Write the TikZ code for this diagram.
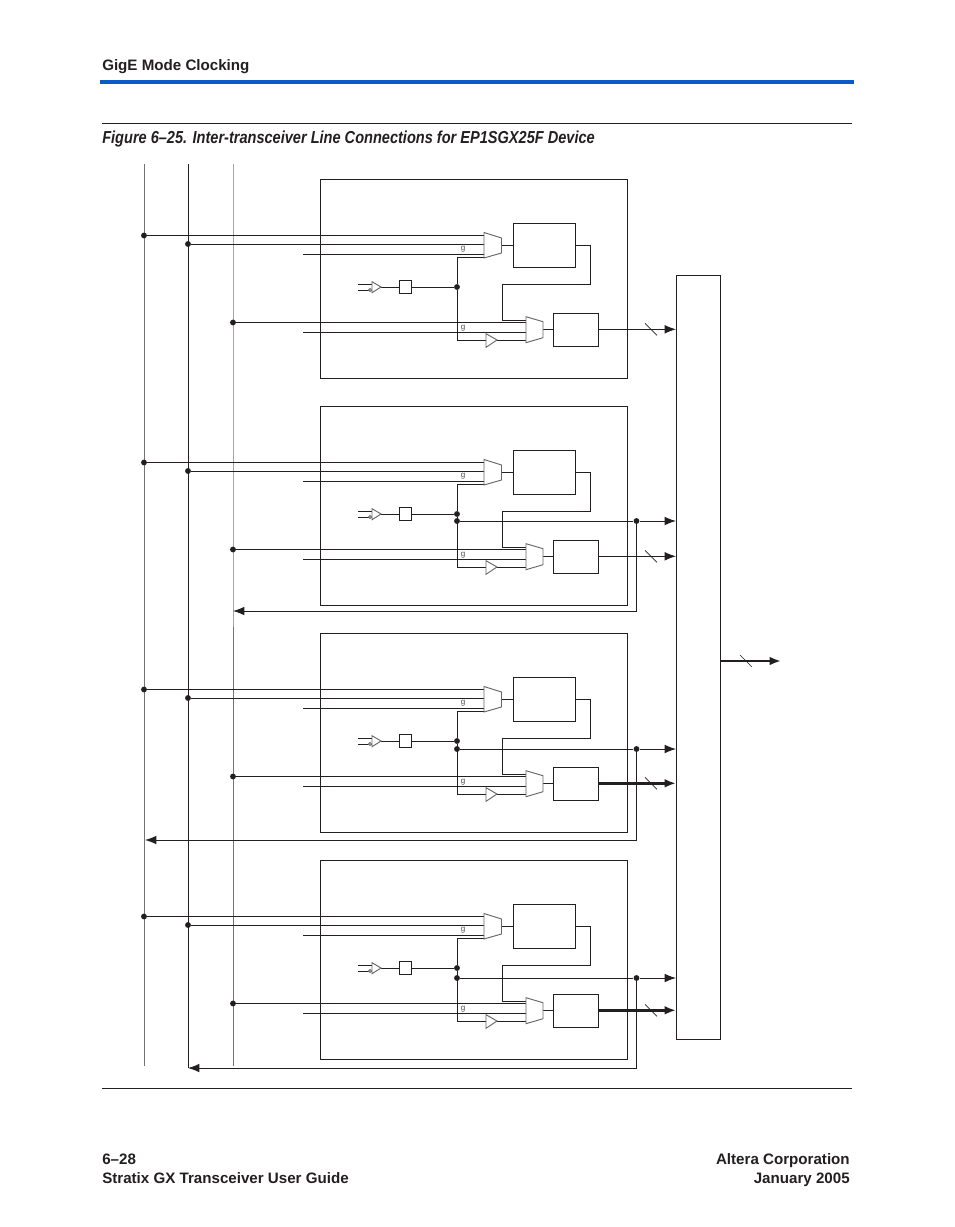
\documentclass[tikz,border=0pt]{standalone}
\usepackage{fontspec}
\setmainfont{Liberation Sans}
\usetikzlibrary{calc, arrows.meta}
\definecolor{ruleblue}{HTML}{0A5CC4}
\definecolor{linedark}{HTML}{231F20}
\tikzset{
  >={Latex[length=8.5pt,width=6.5pt]},
  wire/.style={draw=linedark, line width=0.72pt},
  fatwire/.style={draw=linedark, line width=1.9pt},
  railgray/.style={draw=black!55, line width=0.72pt},
  gategray/.style={draw=black!60, line width=0.7pt, fill=white},
  blockbox/.style={wire, fill=white, inner sep=0pt, outer sep=0pt},
  dotnode/.style={circle, fill=linedark, inner sep=0pt, minimum size=4.4pt},
  tinylabel/.style={font=\fontsize{6}{6}\selectfont, text=black!70, inner sep=0pt},
  pagetext/.style={font=\fontsize{11.35}{13}\selectfont\bfseries, text=linedark, inner sep=0pt},
  slashmark/.style={draw=linedark, line width=0.5pt},
}
\begin{document}
\begin{tikzpicture}[x=0.75pt, y=-0.75pt]
  \useasboundingbox (0,0) rectangle (954,1227);

  % page furniture
  \node[pagetext, anchor=base west] (header) at (102,71) {GigE Mode Clocking};
  \fill[ruleblue] (100,80.5) rectangle (854,84.5);
  \draw[wire] (102,123) -- (852,123);
  \node[pagetext, anchor=base west, font=\fontsize{13}{15}\selectfont\bfseries] (caption) at (102,143.5) {\addfontfeature{FakeStretch=0.84}\itshape Figure 6--25. Inter-transceiver Line Connections for EP1SGX25F Device};
  \draw[wire] (102,1088) -- (852,1088);
  \node[pagetext, anchor=base west] (pagenum) at (102,1164) {6--28};
  \node[pagetext, anchor=base west] (guide) at (102,1183) {Stratix GX Transceiver User Guide};
  \node[pagetext, anchor=base east] (corp) at (850,1164) {Altera Corporation};
  \node[pagetext, anchor=base east] (date) at (850,1183) {January 2005};

  % rails
  \coordinate (railAtop) at (144,164);
  \coordinate (railAend) at (144,1066);
  \coordinate (railBtop) at (188,164);
  \coordinate (railBend) at (188,1068);
  \coordinate (railCtop) at (233,164);
  \coordinate (railCmid) at (233,627);
  \coordinate (railCend) at (233,1066);
  \draw[railgray] (railAtop) -- (railAend);
  \draw[wire] (railBtop) -- (railBend);
  \draw[railgray, draw=black!35] (railCtop) -- (railCmid);
  \draw[railgray] (railCmid) -- (railCend);

  % collector
  \node[blockbox, minimum width=33pt, minimum height=573pt, anchor=north west] (collector) at (676,275) {};
  \coordinate (outEnd) at (781,661);
  \draw[fatwire, ->] (collector.east |- outEnd) -- (outEnd);
  \draw[slashmark] (740,655) -- (752,667);

  % the four channels
  \foreach \n/\top/\fat in {1/180/wire, 2/407/wire, 3/634/fatwire, 4/861/fatwire} {
    \begin{scope}[shift={(0,\top)}]
      \node[blockbox, minimum width=230.25pt, minimum height=149.25pt, anchor=north west] (chan\n) at (320,-0.5) {};
      \node[blockbox, minimum width=46.5pt, minimum height=33pt, anchor=north west] (pll\n) at (513,43) {};
      \node[blockbox, minimum width=34.25pt, minimum height=24.75pt, anchor=north west] (div\n) at (553,133) {};
      \node[blockbox, minimum width=9pt, minimum height=9.5pt] (reg\n) at (405,107) {};
      \node[dotnode] (tapA\n) at (144,55.5) {};
      \node[dotnode] (tapB\n) at (188,64) {};
      \node[dotnode] (tapC\n) at (233,142.5) {};
      \node[dotnode] (hub\n) at (457,107) {};
      % upper mux inputs
      \coordinate (muxAa\n) at (484,55.5);
      \coordinate (muxAb\n) at (484,64);
      \coordinate (muxAc\n) at (484,74);
      \coordinate (muxAd\n) at (484,77.7);
      \coordinate (muxAout\n) at (501.5,65.5);
      \coordinate (freeA\n) at (303,74);
      \draw[wire] (tapA\n) -- (muxAa\n);
      \draw[wire] (tapB\n) -- (muxAb\n);
      \draw[wire] (freeA\n) -- (muxAc\n);
      \draw[wire] (muxAd\n) -| (hub\n);
      \draw[wire] (muxAout\n) -- (pll\n.west |- muxAout\n);
      % lower mux inputs
      \coordinate (muxBa\n) at (526,142.5);
      \coordinate (muxBb\n) at (526,152.3);
      \coordinate (muxBc\n) at (526,160);
      \coordinate (muxBd\n) at (526,140);
      \coordinate (muxBout\n) at (543,149.5);
      \coordinate (freeB\n) at (303,152.3);
      \coordinate (bufB\n) at (486,160);
      \draw[wire] (tapC\n) -- (muxBa\n);
      \draw[wire] (freeB\n) -- (muxBb\n);
      \draw[wire] (hub\n) |- (bufB\n);
      \draw[wire] (bufB\n) -- (muxBc\n);
      \draw[wire] (muxBout\n) -- (div\n.west |- muxBout\n);
      % feedback
      \draw[wire] (pll\n.east |- muxAout\n) -- (590,65.5) -- (590,104) -- (502,104) -- (502,140) -- (muxBd\n);
      % differential input
      \coordinate (inP\n) at (358,104);
      \coordinate (inN\n) at (358,110);
      \draw[wire] (inP\n) -- (372,104);
      \draw[wire] (inN\n) -- (372,110);
      \draw[wire] (381,107) -- (reg\n.west);
      \draw[wire] (reg\n.east) -- (hub\n);
      % gates
      \draw[gategray] (484,52.5) -- (501.5,58) -- (501.5,73) -- (484,78) -- cycle;
      \draw[gategray] (526,136.7) -- (543,141.7) -- (543,157.7) -- (526,162.7) -- cycle;
      \draw[gategray] (372,101.7) -- (381,107) -- (372,112.7) -- cycle;
      \draw[gategray] (370,110) circle (1.5);
      \draw[gategray] (486,153.7) -- (497,160) -- (486,167.3) -- cycle;
      \node[tinylabel] (lblA\n) at (463,69.5) {g};
      \node[tinylabel] (lblB\n) at (463,148.5) {g};
      % output
      \coordinate (outP\n) at (676,149.3);
      \draw[\fat, ->] (div\n.east |- outP\n) -- (outP\n);
      \draw[slashmark] (645,143.3) -- (657,155.3);
    \end{scope}
  }

  % tap lines back to the rails
  \foreach \n/\y/\back/\x in {2/521/611/233, 3/749/840/145, 4/978/1068/188} {
    \node[dotnode] (hubB\n) at (457,\y) {};
    \node[dotnode] (sense\n) at (636.5,\y) {};
    \coordinate (senseIn\n) at (676,\y);
    \coordinate (backEnd\n) at (\x,\back);
    \draw[wire] (hubB\n) -- (sense\n);
    \draw[wire, ->] (sense\n) -- (senseIn\n);
    \draw[wire, ->] (sense\n) |- (backEnd\n);
  }
\end{tikzpicture}
\end{document}
